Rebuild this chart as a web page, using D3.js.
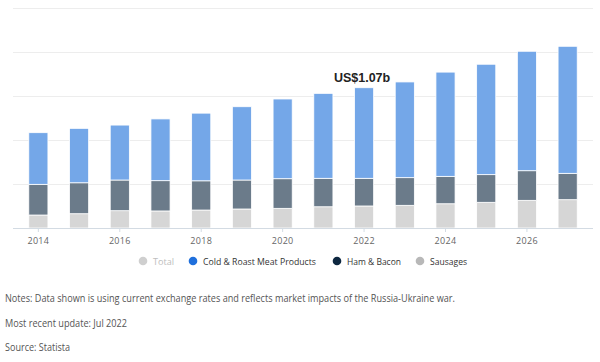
<!DOCTYPE html>
<html>
<head>
<meta charset="utf-8">
<script src="https://cdn.jsdelivr.net/npm/d3@7"></script>
<style>
  body { margin: 0; background: #fff; font-family: "Open Sans", sans-serif; }
  #graphicContainer { width: 600px; height: 362px; }
</style>
</head>
<body>
<div id="graphicContainer"></div>
<script>
// values in US$ billion
const years = [2014, 2015, 2016, 2017, 2018, 2019, 2020, 2021, 2022, 2023, 2024, 2025, 2026, 2027]
const sausages = [0.099, 0.109, 0.132, 0.130, 0.137, 0.145, 0.150, 0.162, 0.168, 0.173, 0.185, 0.196, 0.211, 0.216]
const hamBacon = [0.234, 0.236, 0.234, 0.231, 0.223, 0.221, 0.226, 0.217, 0.211, 0.211, 0.209, 0.211, 0.226, 0.201]
const coldRoast = [0.394, 0.415, 0.419, 0.471, 0.516, 0.559, 0.608, 0.648, 0.691, 0.730, 0.795, 0.842, 0.911, 0.969]
const tickYears = [2014, 2016, 2018, 2020, 2022, 2024, 2026]
const legendItems = ["Total", "Cold & Roast Meat Products", "Ham & Bacon", "Sausages"]
const highlightYear = 2022
const highlightLabel = "US$1.07b"
const notes = [
  "Notes: Data shown is using current exchange rates and reflects market impacts of the Russia-Ukraine war.",
  "Most recent update: Jul 2022",
  "Source: Statista"
]

const keys = ["sausages", "hamBacon", "coldRoast"]
const barColors = { sausages: "#d6d6d6", hamBacon: "#6b7b8a", coldRoast: "#74a7e8" }
const legendColors = ["#cfcfcf", "#1f6fdc", "#0d2740", "#b8b8b8"]

const data = years.map((y, i) => ({
  year: y, sausages: sausages[i], hamBacon: hamBacon[i], coldRoast: coldRoast[i]
}))

const svg = d3.select("#graphicContainer")
  .append("svg")
  .attr("width", 600)
  .attr("height", 362)

const x = d3.scaleBand()
  .domain(years)
  .range([18, 588])
  .paddingInner(0.53)
  .paddingOuter(0.265)

const y = d3.scaleLinear()
  .domain([0, 1.678])
  .range([228, 8])

// gridlines
const gridTicks = d3.range(0, 6).map(i => i * 1.678 / 5)
svg.append("g")
  .selectAll("line")
  .data(gridTicks.slice(1))
  .enter()
  .append("line")
  .attr("x1", 13)
  .attr("x2", 593)
  .attr("y1", d => Math.round(y(d)) + 0.5)
  .attr("y2", d => Math.round(y(d)) + 0.5)
  .attr("stroke", "#ededed")
  .attr("stroke-width", 1.2)

// stacked bars
const stack = d3.stack().keys(keys)(data)

svg.append("g")
  .selectAll("g")
  .data(stack)
  .enter()
  .append("g")
  .attr("fill", d => barColors[d.key])
  .selectAll("rect")
  .data(d => d)
  .enter()
  .append("rect")
  .attr("x", d => x(d.data.year))
  .attr("width", x.bandwidth())
  .attr("y", d => y(d[1]))
  .attr("height", d => y(d[0]) - y(d[1]))
  .attr("stroke", "#fff")
  .attr("stroke-width", 0.8)

// baseline + x axis
svg.append("line")
  .attr("x1", 13)
  .attr("x2", 593)
  .attr("y1", 228.5)
  .attr("y2", 228.5)
  .attr("stroke", "#d3dbe3")

const xAxis = svg.append("g")
  .attr("transform", "translate(0,228)")
  .call(d3.axisBottom(x).tickValues(tickYears).tickSize(4).tickPadding(6))

xAxis.select(".domain").remove()
xAxis.selectAll(".tick line").attr("stroke", "#d3dbe3")
xAxis.selectAll(".tick text")
  .attr("fill", "#666")
  .style("font-family", "'Open Sans', sans-serif")
  .style("font-size", "9px")
  .style("letter-spacing", "0.3px")

// highlighted total
const hi = data.find(d => d.year === highlightYear)
svg.append("text")
  .attr("x", x(highlightYear) + x.bandwidth() / 2 - 2)
  .attr("y", y(hi.sausages + hi.hamBacon + hi.coldRoast) - 6)
  .attr("text-anchor", "middle")
  .style("font-family", "Arial, 'Liberation Sans', sans-serif")
  .style("font-weight", "bold")
  .style("font-size", "12.5px")
  .attr("fill", "#222")
  .text(highlightLabel)

// legend
const legendX = [143, 193, 337, 420]
const legendW = [21, 113, 54, 37]
const legend = svg.append("g")
legendItems.forEach((k, i) => {
  legend.append("circle")
    .attr("cx", legendX[i])
    .attr("cy", 261)
    .attr("r", 4.3)
    .attr("fill", legendColors[i])
  legend.append("text")
    .attr("x", legendX[i] + 10)
    .attr("y", 264.5)
    .attr("fill", i === 0 ? "#bdbdbd" : "#333")
    .attr("textLength", legendW[i])
    .attr("lengthAdjust", "spacingAndGlyphs")
    .style("font-family", "'Open Sans', sans-serif")
    .style("font-size", "9.5px")
    .text(k)
})

// notes
const notesW = [450, 122, 65]
svg.append("g")
  .selectAll("text")
  .data(notes)
  .enter()
  .append("text")
  .attr("x", 5)
  .attr("y", (d, i) => 302 + i * 24.5)
  .attr("fill", "#555")
  .attr("textLength", (d, i) => notesW[i])
  .attr("lengthAdjust", "spacingAndGlyphs")
  .style("font-family", "'Open Sans', sans-serif")
  .style("font-size", "11px")
  .text(d => d)
</script>
</body>
</html>
